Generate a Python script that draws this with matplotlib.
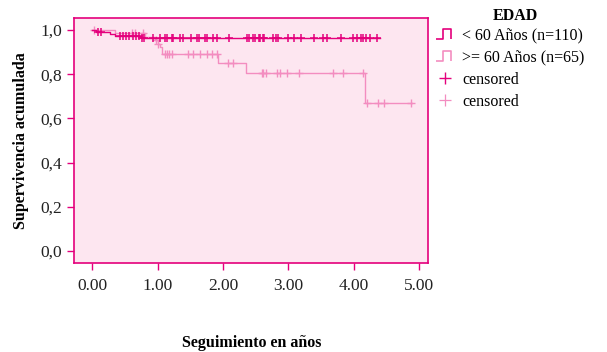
import matplotlib
matplotlib.use("Agg")
import matplotlib.pyplot as plt
import numpy as np
from matplotlib.lines import Line2D
from matplotlib.path import Path

plt.rcParams['font.family'] = ['Liberation Serif', 'DejaVu Serif']

# Kaplan-Meier steps (time in years, survival after the event)
young_times = [0.0, 0.05, 0.27, 0.35, 0.74, 4.40]
young_surv = [1.0, 0.991, 0.982, 0.973, 0.964, 0.964]
young_cens = [0.09, 0.13, 0.42, 0.47, 0.52, 0.56, 0.62, 0.67, 0.72, 0.76, 0.79,
              0.93, 1.04, 1.11, 1.15, 1.22, 1.24, 1.34, 1.39, 1.51, 1.60, 1.64,
              1.72, 1.76, 1.85, 1.91, 2.09, 2.37, 2.40, 2.46, 2.49, 2.55, 2.57,
              2.61, 2.63, 2.77, 2.81, 2.84, 3.00, 3.09, 3.19, 3.39, 3.53, 3.59,
              3.81, 3.99, 4.05, 4.11, 4.14, 4.19, 4.25, 4.36]

old_times = [0.0, 0.35, 0.81, 0.96, 1.00, 1.04, 1.07, 1.92, 2.35, 4.18, 4.90]
old_surv = [1.0, 0.985, 0.969, 0.954, 0.938, 0.923, 0.892, 0.85, 0.805, 0.67, 0.67]
old_cens = [0.03, 0.61, 0.66, 0.78, 0.98, 1.00, 1.12, 1.15, 1.18, 1.22, 1.47, 1.54,
            1.65, 1.75, 1.83, 1.91, 2.08, 2.15, 2.60, 2.62, 2.66, 2.83, 2.87,
            2.98, 3.16, 3.68, 3.84, 4.15, 4.21, 4.38, 4.46, 4.88]

labels = ['< 60 Años (n=110)', '>= 60 Años (n=65)', 'censored', 'censored']
dark = '#E4007C'
light = '#F38DC0'
bg = '#FDE6F0'


def surv_at(times, surv, t):
    # survival value just at time t (right-continuous step)
    idx = np.searchsorted(times, t, side='right') - 1
    return np.array(surv)[idx]


fig = plt.figure(figsize=(6.07, 3.52), dpi=100)
ax = fig.add_axes([74 / 607, 1 - 263 / 352, (428 - 74) / 607, (263 - 18) / 352])
ax.set_facecolor(bg)

ax.step(old_times, old_surv, where='post', color=light, lw=1.0, zorder=2)
ax.plot(old_cens, surv_at(old_times, old_surv, old_cens), '+', color=light,
        ms=6, mew=1.0, zorder=3)
ax.step(young_times, young_surv, where='post', color=dark, lw=1.0, zorder=4)
ax.plot(young_cens, surv_at(young_times, young_surv, young_cens), '+', color=dark,
        ms=6, mew=1.1, zorder=5)

ax.set_xlim(-0.28, 5.14)
ax.set_ylim(-0.054, 1.054)
ax.set_xticks([0, 1, 2, 3, 4, 5])
ax.set_xticklabels(['0.00', '1.00', '2.00', '3.00', '4.00', '5.00'])
ax.set_yticks([0, 0.2, 0.4, 0.6, 0.8, 1.0])
ax.set_yticklabels(['0,0', '0,2', '0,4', '0,6', '0,8', '1,0'])
ax.tick_params(axis='both', colors=dark, labelcolor='#222222', labelsize=12.5,
               length=5, width=1)
ax.tick_params(axis='x', pad=6)
for side in ax.spines.values():
    side.set_color(dark)
    side.set_linewidth(1.2)

ax.set_ylabel('Supervivencia acumulada', fontsize=11.5, fontweight='bold',
              labelpad=8)
fig.text(252 / 607, 1 - 343 / 352, 'Seguimiento en años', fontsize=11.5,
         fontweight='bold', ha='center', va='center')

# legend with step-shaped icons, title placed separately
fig.text(515 / 607, 1 - 16 / 352, 'EDAD', fontsize=11.5, fontweight='bold',
         ha='center', va='center')
step_icon = Path([(-1.0, -0.6), (-0.2, -0.6), (-0.2, 0.6), (0.7, 0.6), (0.7, -0.6)],
                 [Path.MOVETO, Path.LINETO, Path.LINETO, Path.LINETO, Path.LINETO])
handles = [
    Line2D([], [], marker=step_icon, ls='none', ms=13, mfc='none', mec=dark, mew=1.2),
    Line2D([], [], marker=step_icon, ls='none', ms=13, mfc='none', mec=light, mew=1.2),
    Line2D([], [], marker='+', ls='none', ms=9, mec=dark, mew=1.0),
    Line2D([], [], marker='+', ls='none', ms=9, mec=light, mew=0.9),
]
fig.legend(handles, labels, loc='upper left', bbox_to_anchor=(430 / 607, 1 - 23 / 352),
           frameon=False, fontsize=11.5, handlelength=1.3,
           handletextpad=0.4, labelspacing=0.38, borderaxespad=0.0,
           borderpad=0.3)

fig.savefig('out.png', dpi=100, facecolor='white')
